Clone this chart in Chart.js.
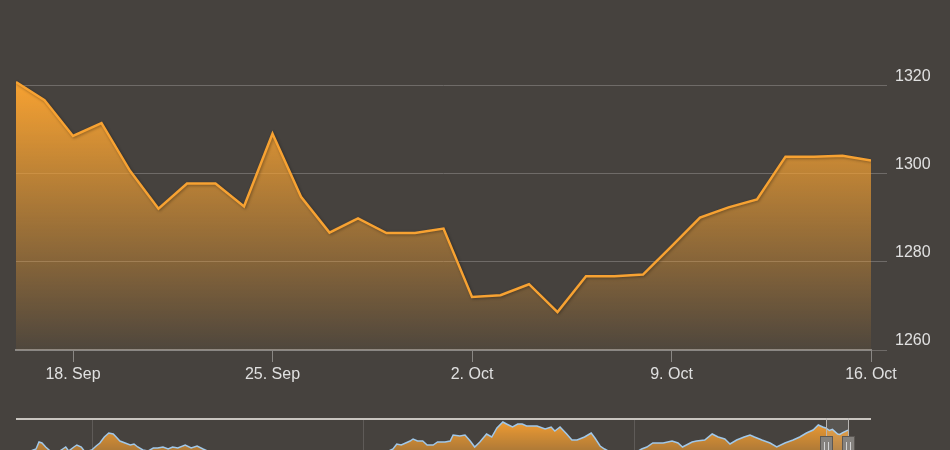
<!DOCTYPE html>
<html>
<head>
<meta charset="utf-8">
<script src="https://cdn.jsdelivr.net/npm/chart.js@4.4.1/dist/chart.umd.min.js"></script>
<style>
  html, body { margin: 0; padding: 0; background: #46423e; overflow: hidden; }
  #wrap { position: relative; width: 950px; height: 450px; }
  #main { position: absolute; left: 0; top: 0; }
  #nav { position: absolute; left: 0; top: 418px; }
</style>
</head>
<body>
<div id="wrap">
  <canvas id="main" width="950" height="400"></canvas>
  <canvas id="nav" width="950" height="32"></canvas>
</div>
<script>
// daily values, 16 Sep -> 16 Oct
const dates = ['16. Sep', '17. Sep', '18. Sep', '19. Sep', '20. Sep', '21. Sep', '22. Sep', '23. Sep',
  '24. Sep', '25. Sep', '26. Sep', '27. Sep', '28. Sep', '29. Sep', '30. Sep', '1. Oct', '2. Oct',
  '3. Oct', '4. Oct', '5. Oct', '6. Oct', '7. Oct', '8. Oct', '9. Oct', '10. Oct', '11. Oct',
  '12. Oct', '13. Oct', '14. Oct', '15. Oct', '16. Oct'];
const prices = [1320.7, 1316.6, 1308.5, 1311.4, 1300.6, 1292.0, 1297.7, 1297.7, 1292.5, 1309.0,
  1294.7, 1286.6, 1289.8, 1286.5, 1286.5, 1287.5, 1272.0, 1272.4, 1274.9, 1268.6, 1276.7, 1276.7,
  1277.1, 1283.5, 1290.0, 1292.3, 1294.1, 1303.8, 1303.8, 1304.0, 1302.9];
const yTicks = [1260, 1280, 1300, 1320];
const xTickIdx = [2, 9, 16, 23, 30];

// navigator (long history): day offset from start, value
const navDays = [0, 16, 27, 31, 35, 40, 46, 55, 63, 67, 71, 78, 82, 88, 93, 102, 108, 113, 119, 125,
  131, 135, 140, 147, 154, 159, 164, 171, 178, 185, 191, 198, 205, 211, 218, 228, 236, 244, 252, 261,
  288, 329, 369, 409, 450, 490, 508, 513, 519, 525, 531, 535, 541, 548, 554, 562, 568, 578, 585, 589,
  598, 605, 612, 618, 625, 634, 641, 648, 656, 661, 669, 676, 682, 688, 702, 713, 721, 726, 733, 742,
  749, 756, 766, 775, 780, 787, 793, 803, 820, 836, 843, 850, 858, 872, 884, 892, 898, 911, 917, 928,
  938, 946, 955, 962, 971, 981, 989, 995, 1005, 1016, 1025, 1036, 1047, 1056, 1065, 1074, 1081, 1087, 1091, 1096,
  1100, 1107, 1110, 1114, 1121];
const navValues = [1096, 1128, 1152, 1208, 1200, 1168, 1136, 1120, 1152, 1168, 1136, 1168, 1184, 1168, 1128, 1144, 1176, 1200, 1248, 1280,
  1272, 1248, 1216, 1200, 1184, 1192, 1168, 1144, 1136, 1160, 1160, 1168, 1152, 1168, 1160, 1184, 1160, 1176, 1152, 1128,
  1096, 1080, 1064, 1072, 1088, 1104, 1152, 1192, 1184, 1200, 1216, 1232, 1216, 1216, 1184, 1184, 1208, 1208, 1216, 1264,
  1256, 1264, 1216, 1168, 1208, 1272, 1248, 1320, 1368, 1352, 1328, 1352, 1352, 1336, 1336, 1312, 1328, 1296, 1328, 1272,
  1224, 1224, 1248, 1280, 1240, 1176, 1152, 1120, 1104, 1128, 1152, 1168, 1200, 1200, 1216, 1200, 1168, 1208, 1216, 1224,
  1272, 1248, 1232, 1192, 1224, 1248, 1264, 1248, 1224, 1200, 1168, 1200, 1224, 1248, 1280, 1304, 1344, 1328, 1320, 1300,
  1309, 1272, 1268, 1283, 1303];
const navYearLines = [102, 467, 833];
const navRange = [1091, 1121];

const font = "'Liberation Sans', Arial, sans-serif";
const orange = '#f7a232';

// shadow under the main line (fill is already drawn by then)
const lineShadow = {
  id: 'lineShadow',
  beforeDatasetDraw(chart) {
    const c = chart.ctx;
    c.save();
    c.shadowColor = 'rgba(0,0,0,0.35)';
    c.shadowBlur = 3;
    c.shadowOffsetX = 1;
    c.shadowOffsetY = 1;
  },
  afterDatasetDraw(chart) { chart.ctx.restore(); }
};

new Chart(document.getElementById('main'), {
  type: 'line',
  data: {
    datasets: [{
      data: prices.map((v, i) => ({ x: i, y: v })),
      borderColor: orange,
      borderWidth: 2.5,
      pointRadius: 0,
      tension: 0,
      fill: 'start',
      backgroundColor: (ctx) => {
        const chart = ctx.chart;
        const area = chart.chartArea;
        if (!area) return 'rgba(247,162,50,0.5)';
        const top = chart.scales.y.getPixelForValue(Math.max(...prices));
        const g = chart.ctx.createLinearGradient(0, top, 0, area.bottom);
        g.addColorStop(0, 'rgba(247,162,50,1)');
        g.addColorStop(1, 'rgba(247,162,50,0.05)');
        return g;
      }
    }]
  },
  options: {
    responsive: false,
    animation: false,
    devicePixelRatio: 1,
    layout: { padding: { left: 16, top: 10, right: 0, bottom: 0 } },
    plugins: { legend: { display: false }, tooltip: { enabled: false } },
    scales: {
      x: {
        type: 'linear',
        min: 0,
        max: dates.length - 1,
        afterBuildTicks: (s) => { s.ticks = xTickIdx.map(v => ({ value: v })); },
        afterFit: (s) => { s.height = 50; },
        ticks: {
          callback: (v) => dates[v],
          color: '#e0e0e0',
          font: { family: font, size: 16 },
          padding: 3,
          maxRotation: 0,
          autoSkip: false
        },
        grid: { drawOnChartArea: false, color: '#8a8784', tickLength: 12, lineWidth: 1 },
        border: { color: '#8a8784', width: 2 }
      },
      y: {
        position: 'right',
        min: 1260,
        max: 1335.3,
        afterBuildTicks: (s) => { s.ticks = yTicks.map(v => ({ value: v })); },
        afterFit: (s) => { s.width = 79; },
        ticks: {
          callback: (v) => String(v),
          color: '#e0e0e0',
          font: { family: font, size: 16 },
          padding: 8,
          labelOffset: -9
        },
        grid: { color: '#6f6b68', lineWidth: 1, tickLength: 16 },
        border: { display: false }
      }
    }
  },
  plugins: [lineShadow]
});

// navigator decorations: year lines, outline, selected range + handles
const navDecor = {
  id: 'navDecor',
  beforeDatasetsDraw(chart) {
    const c = chart.ctx, xs = chart.scales.x;
    c.save();
    c.strokeStyle = '#5f5b58';
    c.lineWidth = 1;
    navYearLines.forEach(d => {
      const x = Math.round(xs.getPixelForValue(d)) + 0.5;
      c.beginPath(); c.moveTo(x, 0); c.lineTo(x, chart.height); c.stroke();
    });
    c.restore();
  },
  afterDatasetsDraw(chart) {
    const c = chart.ctx, xs = chart.scales.x, a = chart.chartArea;
    const x1 = Math.round(xs.getPixelForValue(navRange[0]));
    const x2 = Math.round(xs.getPixelForValue(navRange[1]));
    c.save();
    c.fillStyle = 'rgba(255,255,255,0.1)';
    c.fillRect(x1, 0, x2 - x1, chart.height);
    // outline on top
    c.strokeStyle = '#c9c5c0';
    c.lineWidth = 2;
    c.beginPath(); c.moveTo(a.left, 1); c.lineTo(a.right, 1); c.stroke();
    [x1, x2].forEach(x => {
      c.strokeStyle = '#b8b5b2';
      c.lineWidth = 1;
      c.beginPath(); c.moveTo(x + 0.5, 0); c.lineTo(x + 0.5, 19); c.stroke();
      c.fillStyle = '#85827e';
      c.strokeStyle = '#5c5854';
      c.fillRect(x - 6, 18.5, 13, 20);
      c.strokeRect(x - 5.5, 18.5, 12, 20);
      c.strokeStyle = '#d4d4d4';
      c.beginPath();
      c.moveTo(x - 1.5, 24); c.lineTo(x - 1.5, 32);
      c.moveTo(x + 2.5, 24); c.lineTo(x + 2.5, 32);
      c.stroke();
    });
    c.restore();
  }
};

new Chart(document.getElementById('nav'), {
  type: 'line',
  data: {
    datasets: [{
      data: navDays.map((d, i) => ({ x: d, y: navValues[i] })),
      borderColor: '#a0c8ea',
      borderWidth: 1.5,
      pointRadius: 0,
      tension: 0,
      fill: 'start',
      backgroundColor: (ctx) => {
        const chart = ctx.chart;
        if (!chart.chartArea) return 'rgba(247,160,50,0.8)';
        const g = chart.ctx.createLinearGradient(0, 0, 0, chart.height);
        g.addColorStop(0, 'rgba(247,160,50,1)');
        g.addColorStop(1, 'rgba(247,160,50,0.6)');
        return g;
      }
    }]
  },
  options: {
    responsive: false,
    animation: false,
    devicePixelRatio: 1,
    layout: { padding: { left: 16, right: 79, top: 0, bottom: 0 } },
    plugins: { legend: { display: false }, tooltip: { enabled: false } },
    scales: {
      x: { type: 'linear', display: false, min: 0, max: 1152 },
      y: { display: false, min: 1144, max: 1400 }
    }
  },
  plugins: [navDecor]
});
</script>
</body>
</html>
